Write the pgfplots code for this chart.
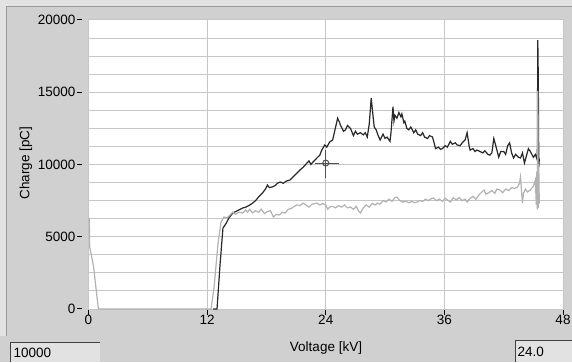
\documentclass[border=0pt]{standalone}
\usepackage{pgfplots}
\pgfplotsset{compat=1.18}
\usepackage{fontspec}
\setmainfont{Liberation Sans}
\definecolor{panel}{HTML}{D0D0D0}
\definecolor{lightstrip}{HTML}{E2E2E2}
\definecolor{framec}{HTML}{9A9A9A}
\definecolor{gridc}{HTML}{C6C6C6}
\definecolor{darkc}{HTML}{282828}
\definecolor{lightc}{HTML}{B2B2B2}
\definecolor{cursorc}{HTML}{505050}
\newcommand{\uifont}{\fontsize{13.5}{16}\selectfont}
\begin{document}
\begin{tikzpicture}[x=1pt,y=1pt]
\path[use as bounding box] (-88.5,-53) rectangle (483.5,309);
\fill[panel] (-88.5,-53) rectangle (483.5,309);
\fill[lightstrip] (-88.5,302) rectangle (483.5,309);
\fill[lightstrip] (-88.5,-27) rectangle (-81.5,309);
\draw[framec,line width=1pt] (-81.5,-27) -- (-81.5,302) -- (483.5,302);
\begin{axis}[
  at={(0,0)}, anchor=south west,
  scale only axis, width=474.5pt, height=289pt,
  xmin=0, xmax=48, ymin=0, ymax=20000,
  scaled ticks=false,
  axis background/.style={fill=white},
  axis line style={draw=gridc, line width=1pt},
  xtick={0,12,24,36,48},
  ytick={0,5000,10000,15000,20000},
  minor ytick={1250,2500,3750,6250,7500,8750,11250,12500,13750,16250,17500,18750},
  grid=both,
  major grid style={draw=gridc, line width=1pt},
  minor grid style={draw=gridc, line width=1pt},
  xtick pos=lower, ytick pos=left,
  tick align=outside,
  major tick length=6pt, minor tick length=0pt,
  xtick style={draw=black, line width=1pt},
  ytick style={draw=none},
  /pgf/number format/.cd, 1000 sep={}, assume math mode=true, /pgfplots/.cd,
  xticklabel style={font=\uifont, inner sep=0pt, anchor=north},
  yticklabel style={font=\uifont, inner sep=0pt, anchor=east},
  yticklabel={\pgfmathprintnumber[fixed,precision=0]{\tick}\hspace{2pt}\rule[4.3pt]{5pt}{1pt}},
  clip=true,
]
% dark series
\addplot[darkc, line width=1.2pt] coordinates {
(12.6,0) (13.0,0) (13.3,3000) (13.6,5600) (13.9,5900) (14.2,6300) (14.6,6640) (14.9,6750) (15.2,6850) (15.6,6990) (15.9,7050) (16.2,7150) (16.6,7330) (16.9,7500) (17.2,7750) (17.6,8030) (17.9,8300) (18.1,8580) (18.3,8400) (18.6,8450) (18.9,8550) (19.1,8700) (19.4,8790) (19.7,8700) (20.0,8850) (20.4,8930) (20.7,9150) (21.0,9350) (21.4,9620) (21.7,9800) (22.1,10100) (22.3,10250) (22.5,10000) (22.7,10170) (22.9,10300) (23.1,10450) (23.4,10650) (23.6,11000) (23.9,11350) (24.1,11200) (24.4,11560) (24.7,11700) (24.9,12300) (25.2,13200) (25.4,12900) (25.5,12700) (25.8,12300) (26.0,12400) (26.2,12700) (26.5,12500) (26.8,12000) (27.0,12300) (27.2,12100) (27.5,12200) (27.8,12050) (28.0,12200) (28.2,11900) (28.4,12800) (28.6,14600) (28.7,13900) (28.9,12600) (29.1,12400) (29.3,12000) (29.5,11700) (29.8,12100) (30.0,11800) (30.2,11900) (30.5,11600) (30.6,12200) (30.8,14000) (30.9,13000) (31.0,13400) (31.2,13200) (31.4,13600) (31.6,13300) (31.7,13500) (31.9,12900) (32.0,13000) (32.2,12500) (32.4,12400) (32.6,12600) (32.9,12200) (33.1,12400) (33.3,12100) (33.6,12000) (33.8,12200) (34.0,11900) (34.3,11800) (34.5,12000) (34.8,11900) (35.0,11400) (35.1,11100) (35.4,11200) (35.6,11050) (35.8,11100) (36.1,11300) (36.3,11200) (36.6,11600) (36.8,11400) (37.1,11500) (37.3,11350) (37.6,11300) (37.8,11500) (38.1,11700) (38.3,12200) (38.5,11300) (38.6,11000) (38.9,11100) (39.1,10900) (39.3,11000) (39.6,10900) (39.9,10800) (40.1,10950) (40.4,10700) (40.6,10650) (40.8,10800) (41.0,11800) (41.2,11300) (41.5,10500) (41.7,10900) (42.0,10900) (42.2,10700) (42.4,11300) (42.6,11500) (42.8,10800) (43.0,10450) (43.2,10700) (43.5,10500) (43.7,10450) (43.9,10800) (44.1,10100) (44.3,10600) (44.5,11100) (44.7,10900) (45.0,10500) (45.2,10700) (45.4,10300) (45.45,18600) (45.5,16000) (45.55,9800) (45.6,10400)
};
% light series
\addplot[lightc, line width=1.2pt] coordinates {
(0.08,6300) (0.12,4300) (0.5,3000) (1.0,0) (12.4,0) (12.7,1500) (13.1,4500) (13.4,6000) (13.7,6370) (14.0,6300) (14.3,6500) (14.6,6700) (14.9,6550) (15.2,6700) (15.6,6640) (15.9,6850) (16.1,6700) (16.3,6900) (16.6,6650) (16.9,6800) (17.2,6700) (17.5,6900) (17.8,6600) (18.1,6750) (18.4,6800) (18.7,6370) (19.0,6550) (19.3,6500) (19.6,6700) (19.9,6640) (20.2,6900) (20.5,6950) (20.8,7100) (21.1,7200) (21.4,7150) (21.7,7330) (22.0,7200) (22.3,7050) (22.6,7250) (22.9,7300) (23.1,7330) (23.4,7200) (23.7,7300) (24.0,7200) (24.2,6900) (24.4,7060) (24.7,7100) (25.0,7000) (25.3,7150) (25.6,7050) (25.9,7200) (26.2,7000) (26.5,7060) (26.8,6900) (27.1,7100) (27.3,6800) (27.5,6640) (27.8,7000) (28.1,7200) (28.4,7050) (28.7,7300) (29.0,7200) (29.2,7330) (29.5,7250) (29.8,7500) (30.1,7400) (30.4,7600) (30.7,7450) (31.0,7700) (31.2,7750) (31.5,7500) (31.8,7400) (32.1,7450) (32.4,7350) (32.7,7450) (33.0,7350) (33.2,7400) (33.5,7500) (33.8,7450) (34.1,7600) (34.4,7500) (34.7,7650) (34.9,7680) (35.2,7500) (35.5,7600) (35.8,7450) (36.1,7650) (36.4,7500) (36.6,7400) (36.9,7700) (37.2,7550) (37.5,7700) (37.8,7500) (38.1,7600) (38.3,7400) (38.6,7650) (38.9,7800) (39.2,7600) (39.5,7900) (39.8,8100) (40.0,8240) (40.2,7950) (40.5,8050) (40.8,8200) (41.1,8000) (41.3,8300) (41.6,8240) (41.9,8050) (42.2,8300) (42.5,8200) (42.8,8400) (43.1,8350) (43.4,8440) (43.6,8700) (43.7,9140) (43.8,8200) (43.9,7330) (44.0,8000) (44.2,8300) (44.4,8100) (44.7,8240) (45.0,8500) (45.2,8930) (45.3,7200) (45.35,9500) (45.4,6900) (45.45,15100) (45.5,7000) (45.55,10000) (45.6,7300)
};
% cursor
\addplot[cursorc, line width=1pt] coordinates {(22.9,10100) (25.3,10100)};
\addplot[cursorc, line width=1pt] coordinates {(24,9100) (24,11000)};
\addplot[cursorc, line width=1pt, only marks, mark=o, mark size=3pt, mark options={fill=white}] coordinates {(24,10100)};
\end{axis}
\node[font=\uifont, rotate=90] at (-62.5,146) {Charge [pC]};
\node[font=\uifont] at (237.5,-39) {Voltage [kV]};
\fill[lightstrip] (-77.5,-53) rectangle (11.5,-33);
\draw[black!75, line width=1pt] (-77.5,-53) -- (-77.5,-33) -- (11.5,-33);
\node[font=\uifont, anchor=west, inner sep=0pt] at (-75,-43.5) {10000};
\fill[lightstrip] (426.5,-53) rectangle (483.5,-31);
\draw[black!75, line width=1pt] (426.5,-53) -- (426.5,-31) -- (483.5,-31);
\node[font=\uifont, anchor=west, inner sep=0pt] at (429,-42.5) {24.0};
\end{tikzpicture}
\end{document}
